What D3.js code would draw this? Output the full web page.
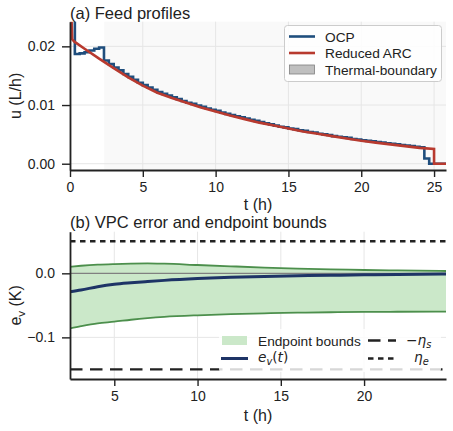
<!DOCTYPE html>
<html>
<head>
<meta charset="utf-8">
<script src="https://cdn.jsdelivr.net/npm/d3@7"></script>
<style>
    body { margin: 0; background: #fff; }
    svg text { font-family: "Liberation Sans", Arial, sans-serif; fill: #222; }
    .math { font-family: "DejaVu Sans", sans-serif; font-style: italic; }
</style>
</head>
<body>
<div id="chart"></div>
<script>
// ---- (a) feed profiles ----
// OCP feed, piecewise constant on a 1/3 h control grid from t = 0
const ocpStep = 1 / 3;
const ocpFeed = [
    0.0250, 0.0187, 0.0188, 0.0190, 0.0193, 0.0196, 0.0198, 0.0176, 0.0170, 0.0164,
    0.0159, 0.0153, 0.0148, 0.0143, 0.0138, 0.0134, 0.0130, 0.0126, 0.0122, 0.0119,
    0.0116, 0.0113, 0.0110, 0.0107, 0.0104, 0.0102, 0.0099, 0.0097, 0.0094, 0.0092,
    0.0090, 0.0087, 0.0085, 0.0083, 0.0081, 0.0079, 0.0077, 0.0075, 0.0073, 0.0071,
    0.0069, 0.0067, 0.0065, 0.0063, 0.0062, 0.0060, 0.0059, 0.0057, 0.0056, 0.0054,
    0.0053, 0.0051, 0.0050, 0.0049, 0.0047, 0.0046, 0.0045, 0.0044, 0.0042, 0.0041,
    0.0040, 0.0039, 0.0038, 0.0037, 0.0036, 0.0035, 0.0034, 0.0033, 0.0032, 0.0031,
    0.0030, 0.0029, 0.0028, 0.0009, 0.0000
];
// reduced ARC feed law
const arcTime = [0.1, 0.15, 0.3, 1, 2, 3, 4, 5, 6, 7, 8, 9, 10, 11, 12, 13, 14, 15,
    16, 17, 18, 19, 20, 21, 22, 23, 24, 25, 25, 25.82];
const arcFeed = [0.0250, 0.0212, 0.0208, 0.0196, 0.0179, 0.0163, 0.0147, 0.0133, 0.0121,
    0.0112, 0.0104, 0.0096, 0.0089, 0.0082, 0.0076, 0.0070, 0.0065, 0.0060, 0.0055, 0.0051,
    0.0047, 0.0043, 0.0039, 0.0036, 0.0033, 0.0030, 0.0027, 0.0025, 0, 0];
const thermalStart = 2.35;
const feedXTicks = [0, 5, 10, 15, 20, 25];
const feedYTicks = [0, 0.01, 0.02];

// ---- (b) VPC error and endpoint bounds ----
const vpcTime = [2.34, 3, 4, 5, 6, 7, 8, 10, 12, 14, 16, 18, 20, 22, 24.92];
const boundUpper = [0.0103, 0.0118, 0.0135, 0.0145, 0.0152, 0.0155, 0.0150, 0.0130,
    0.0110, 0.0090, 0.0074, 0.0062, 0.0052, 0.0045, 0.0036];
const boundLower = [-0.086, -0.0825, -0.078, -0.0755, -0.0725, -0.070, -0.068, -0.0655,
    -0.0638, -0.0625, -0.0615, -0.0608, -0.0603, -0.060, -0.0597];
const errorV = [-0.0287, -0.026, -0.021, -0.0172, -0.0148, -0.0128, -0.011, -0.0082,
    -0.0062, -0.0048, -0.0038, -0.003, -0.0024, -0.0018, -0.0011];
const etaS = 0.15;
const etaE = 0.05;
const vpcXTicks = [5, 10, 15, 20];
const vpcYTicks = [0, -0.1];

const colors = {
    ocp: "#1f4e7d",
    arc: "#b83a2f",
    bandFill: "#cbe8c9",
    bandLine: "#4c8f4c",
    err: "#1e3466",
    grid: "#e6e6e6",
    shade: "#f9f9f9"
};

const W = 453, H = 431;
const svg = d3.select("#chart").append("svg")
    .attr("width", W)
    .attr("height", H);

function styleAxis(g) {
    g.selectAll(".domain").attr("stroke", "#222").attr("stroke-width", 1.8);
    g.selectAll(".tick line").attr("stroke", "#222").attr("stroke-width", 1.4);
    g.selectAll(".tick text").attr("font-size", 14).attr("fill", "#222")
        .style("font-family", "'Liberation Sans', Arial, sans-serif");
}

// ================= panel (a) =================
const a = { left: 70, right: 446, top: 21.7, bottom: 170 };

const xa = d3.scaleLinear().domain([0, 25.82]).range([a.left, a.right]);
const ya = d3.scaleLinear().domain([-0.00107, 0.0242]).range([a.bottom, a.top]);

svg.append("defs").append("clipPath").attr("id", "clipA")
    .append("rect")
    .attr("x", a.left).attr("y", a.top)
    .attr("width", a.right - a.left).attr("height", a.bottom - a.top);

// thermal-boundary shading
svg.append("rect")
    .attr("x", xa(thermalStart)).attr("y", a.top)
    .attr("width", a.right - xa(thermalStart)).attr("height", a.bottom - a.top)
    .attr("fill", colors.shade);

// grid
const gridA = svg.append("g");
gridA.selectAll(".vx").data(feedXTicks).enter().append("line")
    .attr("x1", d => xa(d)).attr("x2", d => xa(d))
    .attr("y1", a.top).attr("y2", a.bottom)
    .attr("stroke", colors.grid).attr("stroke-width", 1);
gridA.selectAll(".hy").data(feedYTicks).enter().append("line")
    .attr("x1", a.left).attr("x2", a.right)
    .attr("y1", d => ya(d)).attr("y2", d => ya(d))
    .attr("stroke", colors.grid).attr("stroke-width", 1);

// OCP staircase
const ocpPts = ocpFeed.map((v, i) => [i * ocpStep, v]);
ocpPts.push([25.82, ocpFeed[ocpFeed.length - 1]]);

const stepLine = d3.line()
    .curve(d3.curveStepAfter)
    .x(d => xa(d[0]))
    .y(d => ya(d[1]));

const plotA = svg.append("g").attr("clip-path", "url(#clipA)");

plotA.append("path")
    .datum(ocpPts)
    .attr("d", stepLine)
    .attr("fill", "none")
    .attr("stroke", colors.ocp)
    .attr("stroke-width", 2.6);

const arcLine = d3.line()
    .x((d, i) => xa(arcTime[i]))
    .y(d => ya(d));

plotA.append("path")
    .datum(arcFeed)
    .attr("d", arcLine)
    .attr("fill", "none")
    .attr("stroke", colors.arc)
    .attr("stroke-width", 2.6);

// axes
const axA_x = svg.append("g")
    .attr("transform", "translate(0," + a.bottom + ")")
    .call(d3.axisBottom(xa).tickValues(feedXTicks).tickFormat(d3.format("d"))
        .tickSize(7).tickSizeOuter(0).tickPadding(5));
styleAxis(axA_x);

const axA_y = svg.append("g")
    .attr("transform", "translate(" + a.left + ",0)")
    .call(d3.axisLeft(ya).tickValues(feedYTicks).tickFormat(d3.format(".2f"))
        .tickSize(8).tickSizeOuter(0).tickPadding(7));
styleAxis(axA_y);

svg.append("text")
    .attr("x", a.left).attr("y", 18.5)
    .attr("font-size", 16.5)
    .text("(a) Feed profiles");

svg.append("text")
    .attr("x", (a.left + a.right) / 2).attr("y", 209.5)
    .attr("text-anchor", "middle")
    .attr("font-size", 16)
    .text("t (h)");

svg.append("text")
    .attr("transform", "translate(21," + ((a.top + a.bottom) / 2) + ") rotate(-90)")
    .attr("text-anchor", "middle")
    .attr("font-size", 16)
    .text("u (L/h)");

// legend (a)
const legA = svg.append("g");
legA.append("rect")
    .attr("x", 284.5).attr("y", 25.5)
    .attr("width", 157).attr("height", 56)
    .attr("rx", 3)
    .attr("fill", "#fff").attr("fill-opacity", 0.85)
    .attr("stroke", "#cccccc").attr("stroke-width", 1);

const legAItems = [
    { label: "OCP", type: "line", color: colors.ocp },
    { label: "Reduced ARC", type: "line", color: colors.arc },
    { label: "Thermal-boundary", type: "patch" }
];
legAItems.forEach((it, i) => {
    const cy = 36.5 + i * 16.5;
    if (it.type === "line") {
        legA.append("line")
            .attr("x1", 289).attr("x2", 315)
            .attr("y1", cy).attr("y2", cy)
            .attr("stroke", it.color).attr("stroke-width", 2.6);
    } else {
        legA.append("rect")
            .attr("x", 289.5).attr("y", cy - 4.5)
            .attr("width", 25).attr("height", 9)
            .attr("fill", "#bfbfbf").attr("stroke", "#7f7f7f").attr("stroke-width", 0.8);
    }
    legA.append("text")
        .attr("x", 325).attr("y", cy + 5)
        .attr("font-size", 13.7)
        .text(it.label);
});

// ================= panel (b) =================
const b = { left: 70, right: 446, top: 231.7, bottom: 379 };

const xb = d3.scaleLinear().domain([2.34, 24.92]).range([b.left, b.right]);
const yb = d3.scaleLinear().domain([-0.165, 0.065]).range([b.bottom, b.top]);

svg.select("defs").append("clipPath").attr("id", "clipB")
    .append("rect")
    .attr("x", b.left).attr("y", b.top)
    .attr("width", b.right - b.left).attr("height", b.bottom - b.top);

const gridB = svg.append("g");
gridB.selectAll(".vx").data(vpcXTicks).enter().append("line")
    .attr("x1", d => xb(d)).attr("x2", d => xb(d))
    .attr("y1", b.top).attr("y2", b.bottom)
    .attr("stroke", colors.grid).attr("stroke-width", 1);
gridB.selectAll(".hy").data(vpcYTicks).enter().append("line")
    .attr("x1", b.left).attr("x2", b.right)
    .attr("y1", d => yb(d)).attr("y2", d => yb(d))
    .attr("stroke", colors.grid).attr("stroke-width", 1);

const plotB = svg.append("g").attr("clip-path", "url(#clipB)");

const band = d3.area()
    .curve(d3.curveMonotoneX)
    .x((d, i) => xb(vpcTime[i]))
    .y0((d, i) => yb(boundLower[i]))
    .y1((d, i) => yb(boundUpper[i]));

plotB.append("path")
    .datum(vpcTime)
    .attr("d", band)
    .attr("fill", colors.bandFill);

const lineB = d3.line()
    .curve(d3.curveMonotoneX)
    .x((d, i) => xb(vpcTime[i]))
    .y(d => yb(d));

// zero reference
plotB.append("line")
    .attr("x1", b.left).attr("x2", b.right)
    .attr("y1", yb(0)).attr("y2", yb(0))
    .attr("stroke", "#808080").attr("stroke-width", 1.3);

[boundUpper, boundLower].forEach(s => {
    plotB.append("path")
        .datum(s)
        .attr("d", lineB)
        .attr("fill", "none")
        .attr("stroke", colors.bandLine)
        .attr("stroke-width", 1.8);
});

plotB.append("path")
    .datum(errorV)
    .attr("d", lineB)
    .attr("fill", "none")
    .attr("stroke", colors.err)
    .attr("stroke-width", 3);

// threshold lines
plotB.append("line")
    .attr("x1", b.left).attr("x2", b.right)
    .attr("y1", yb(-etaS)).attr("y2", yb(-etaS))
    .attr("stroke", "#222").attr("stroke-width", 2.4)
    .attr("stroke-dasharray", "12.5,7.5");

plotB.append("line")
    .attr("x1", b.left).attr("x2", b.right)
    .attr("y1", yb(etaE)).attr("y2", yb(etaE))
    .attr("stroke", "#222").attr("stroke-width", 2.4)
    .attr("stroke-dasharray", "5.5,4.5");

const axB_x = svg.append("g")
    .attr("transform", "translate(0," + b.bottom + ")")
    .call(d3.axisBottom(xb).tickValues(vpcXTicks).tickFormat(d3.format("d"))
        .tickSize(7).tickSizeOuter(0).tickPadding(5));
styleAxis(axB_x);

const axB_y = svg.append("g")
    .attr("transform", "translate(" + b.left + ",0)")
    .call(d3.axisLeft(yb).tickValues(vpcYTicks).tickFormat(d3.format(".1f"))
        .tickSize(8).tickSizeOuter(0).tickPadding(7));
styleAxis(axB_y);

svg.append("text")
    .attr("x", b.left).attr("y", 228)
    .attr("font-size", 16.5)
    .text("(b) VPC error and endpoint bounds");

svg.append("text")
    .attr("x", (b.left + b.right) / 2).attr("y", 421)
    .attr("text-anchor", "middle")
    .attr("font-size", 16)
    .text("t (h)");

const ylabB = svg.append("text")
    .attr("transform", "translate(21," + ((b.top + b.bottom) / 2) + ") rotate(-90)")
    .attr("text-anchor", "middle")
    .attr("font-size", 16);
ylabB.append("tspan").text("e");
ylabB.append("tspan").attr("font-size", 11.5).attr("dy", 4).text("v");
ylabB.append("tspan").attr("dy", -4).text(" (K)");

// legend (b)
const legB = svg.append("g");
legB.append("rect")
    .attr("x", 219).attr("y", 329)
    .attr("width", 222).attr("height", 43)
    .attr("rx", 3)
    .attr("fill", "#fff").attr("fill-opacity", 0.82);

legB.append("rect")
    .attr("x", 222).attr("y", 336)
    .attr("width", 25).attr("height", 9)
    .attr("fill", colors.bandFill);
legB.append("text")
    .attr("x", 258).attr("y", 345.5)
    .attr("font-size", 13.7)
    .text("Endpoint bounds");

legB.append("line")
    .attr("x1", 221).attr("x2", 248)
    .attr("y1", 358.5).attr("y2", 358.5)
    .attr("stroke", colors.err).attr("stroke-width", 3);
const evText = legB.append("text")
    .attr("x", 258).attr("y", 362)
    .attr("font-size", 13.7)
    .attr("class", "math");
evText.append("tspan").text("e");
evText.append("tspan").attr("font-size", 9.8).attr("dy", 3).text("v");
evText.append("tspan").attr("dy", -3).style("font-style", "normal").text("(");
evText.append("tspan").text("t");
evText.append("tspan").style("font-style", "normal").text(")");

legB.append("line")
    .attr("x1", 368).attr("x2", 396)
    .attr("y1", 340.5).attr("y2", 340.5)
    .attr("stroke", "#222").attr("stroke-width", 2.4)
    .attr("stroke-dasharray", "12.5,7.5");
const etaSText = legB.append("text")
    .attr("x", 406).attr("y", 345)
    .attr("font-size", 13.7)
    .attr("class", "math");
etaSText.append("tspan").style("font-style", "normal").text("\u2212");
etaSText.append("tspan").text("\u03B7");
etaSText.append("tspan").attr("font-size", 9.8).attr("dy", 3).text("s");

legB.append("line")
    .attr("x1", 368).attr("x2", 396)
    .attr("y1", 358.5).attr("y2", 358.5)
    .attr("stroke", "#222").attr("stroke-width", 2.4)
    .attr("stroke-dasharray", "5.5,4.5");
const etaEText = legB.append("text")
    .attr("x", 414).attr("y", 362)
    .attr("font-size", 13.7)
    .attr("class", "math");
etaEText.append("tspan").text("\u03B7");
etaEText.append("tspan").attr("font-size", 9.8).attr("dy", 3).text("e");
</script>
</body>
</html>
